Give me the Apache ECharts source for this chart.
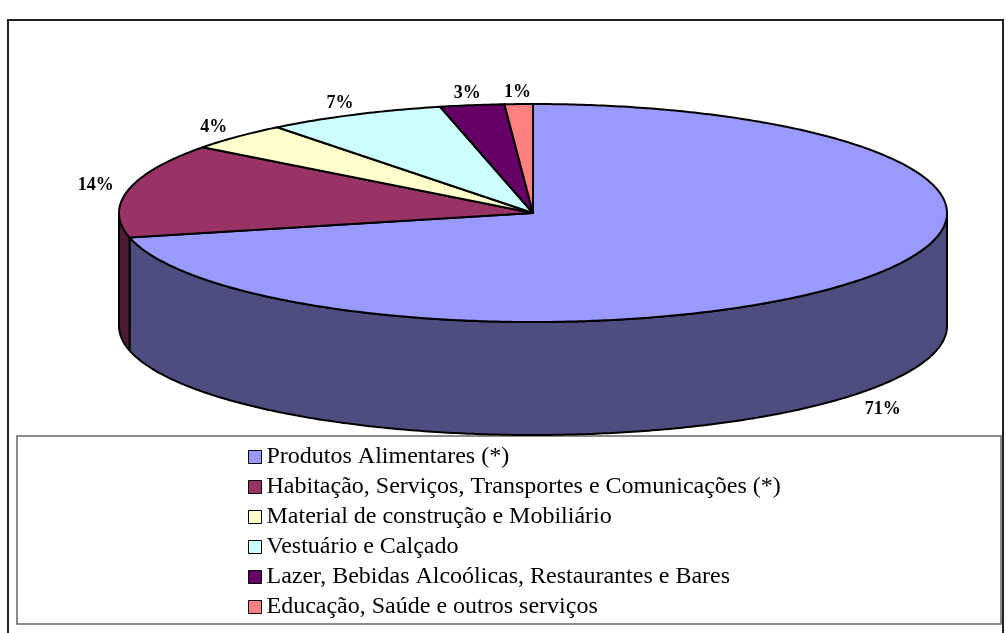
<!DOCTYPE html>
<html><head><meta charset="utf-8">
<script src="https://cdn.jsdelivr.net/npm/echarts@6/dist/echarts.min.js"></script>
<style>html,body{margin:0;padding:0;background:#fff}#c{width:1006px;height:633px}</style>
</head><body><div id="c"></div>
<script>
const categories = [
  'Produtos Alimentares (*)',
  'Habitação, Serviços, Transportes e Comunicações (*)',
  'Material de construção e Mobiliário',
  'Vestuário e Calçado',
  'Lazer, Bebidas Alcoólicas, Restaurantes e Bares',
  'Educação, Saúde e outros serviços'
];
const values = [71.4, 13.9, 4.1, 7.0, 2.5, 1.1];
const colors = ['#9999FF', '#993366', '#FFFFCC', '#CCFFFF', '#660066', '#FF8080'];
const wallColors = ['#4D4D80', '#4D1A33', '#808066', '#668080', '#330033', '#804040'];

const total = values.reduce((a, b) => a + b, 0);
// layout of the tilted pie
const CX = 533, CY = 213, RX = 414, RY = 109, DEPTH = 113;

function pt(a, k, dy) {
  return [CX + RX * k * Math.sin(a), CY - RY * k * Math.cos(a) + dy];
}

function makeRender(i) {
  return function (params, api) {
    const v = api.value(0);
    let start = 0;
    for (let k = 0; k < i; k++) start += values[k];
    const a0 = start / total * 2 * Math.PI;
    const a1 = (start + v) / total * 2 * Math.PI;
    const children = [];
    const w0 = Math.max(a0, Math.PI / 2), w1 = Math.min(a1, 3 * Math.PI / 2);
    if (w1 > w0) {
      const top = [], bot = [];
      const n = Math.max(2, Math.ceil((w1 - w0) / 0.01));
      for (let j = 0; j <= n; j++) {
        const a = w0 + (w1 - w0) * j / n;
        top.push(pt(a, 1, 0));
        bot.push(pt(a, 1, DEPTH));
      }
      children.push({
        type: 'polygon', z2: 1,
        shape: { points: top.concat(bot.reverse()) },
        style: { fill: wallColors[i], stroke: '#000', lineWidth: 2, lineJoin: 'round' }
      });
    }
    const pts = [[CX, CY]];
    const n2 = Math.max(2, Math.ceil((a1 - a0) / 0.01));
    for (let j = 0; j <= n2; j++) pts.push(pt(a0 + (a1 - a0) * j / n2, 1, 0));
    children.push({
      type: 'polygon', z2: 5,
      shape: { points: pts },
      style: { fill: colors[i], stroke: '#000', lineWidth: 2, lineJoin: 'round' }
    });
    const mid = (a0 + a1) / 2;
    const front = Math.cos(mid) < 0;
    const lp = front ? pt(mid, 1.08, DEPTH + 10) : pt(mid, 1.08, -3);
    children.push({
      type: 'text', z2: 10, x: lp[0], y: lp[1],
      style: {
        text: Math.round(v) + '%', font: 'bold 18px "Liberation Serif"',
        fill: '#000', align: 'center', verticalAlign: 'middle'
      }
    });
    return { type: 'group', children: children };
  };
}

const series = categories.map((name, i) => ({
  type: 'custom', name: name, coordinateSystem: 'none',
  itemStyle: { color: colors[i] },
  renderItem: makeRender(i),
  data: [values[i]]
}));

const chart = echarts.init(document.getElementById('c'));
chart.setOption({
  animation: false,
  backgroundColor: '#fff',
  graphic: [
    { type: 'rect', z: -1, shape: { x: 8, y: 20, width: 995, height: 630 }, style: { fill: 'none', stroke: '#222', lineWidth: 2 } },
    { type: 'rect', z: -1, shape: { x: 17, y: 436, width: 984, height: 188 }, style: { fill: 'none', stroke: '#666', lineWidth: 1.5 } }
  ],
  legend: {
    orient: 'vertical', left: 248, top: 445, height: 400,
    padding: 0,
    itemWidth: 13, itemHeight: 13, itemGap: 6,
    icon: 'rect',
    itemStyle: { borderColor: '#000', borderWidth: 1 },
    textStyle: { fontFamily: 'Liberation Serif', fontSize: 24, color: '#000' },
    data: categories,
    selectedMode: false
  },
  series: series
});
</script></body></html>
